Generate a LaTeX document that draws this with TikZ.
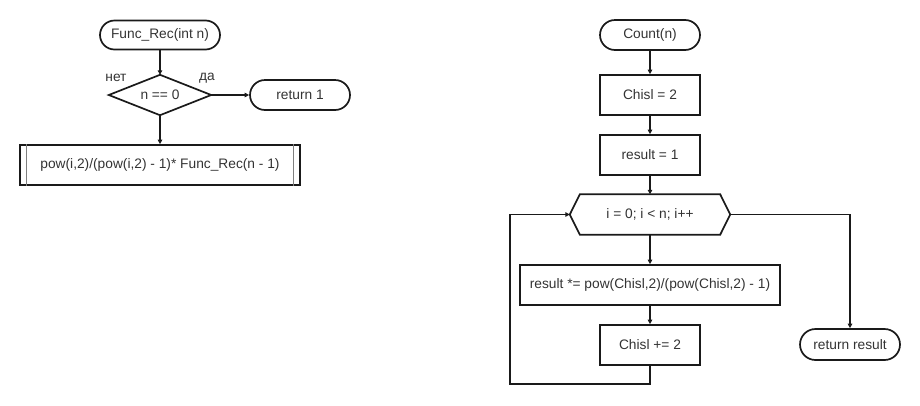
\documentclass[tikz,border=0pt]{standalone}
\usepackage{fontspec}
\setmainfont{Liberation Sans}
\usetikzlibrary{shapes.misc,arrows.meta,calc}
\definecolor{ink}{HTML}{1A1A1A}
\definecolor{txt}{HTML}{333333}
\tikzset{
  every node/.style={font=\fontsize{13.75}{16}\selectfont, text=txt},
  term/.style={rounded rectangle, draw=ink, line width=1.7pt, minimum width=#1, minimum height=29pt, inner sep=0pt},
  proc/.style={rectangle, draw=ink, line width=1.7pt, minimum width=#1, minimum height=40pt, inner sep=0pt},
  shell/.style={rectangle, draw=none, minimum width=#1, minimum height=40pt, inner sep=0pt},
  flow/.style={draw=ink, line width=1.2pt, -{Triangle[length=4.5pt,width=4.5pt]}},
  outline/.style={draw=ink, line width=1.7pt, line join=miter},
}
\begin{document}
\begin{tikzpicture}[x=1pt,y=-1pt]
\useasboundingbox (0,0) rectangle (920,405);

% ---- recursive version ----
\node[term=120pt] (fr) at (160,35) {Func\_Rec(int n)};
\node[shell=102pt] (cond) at (160,95) {n == 0};
\draw[outline] (cond.north) -- (cond.east) -- (cond.south) -- (cond.west) -- cycle;
\node[term=100pt, minimum height=30pt] (ret1) at (300,95) {return 1};
\node[proc=280pt] (call) at (160,165) {pow(i,2)/(pow(i,2) - 1)* Func\_Rec(n - 1)};
\draw[draw=gray, line width=0.9pt] ([xshift=7pt]call.north west) -- ([xshift=7pt]call.south west);
\draw[draw=gray, line width=0.9pt] ([xshift=-7pt]call.north east) -- ([xshift=-7pt]call.south east);
\node (no) at (116,78) {нет};
\node (yes) at (207,78) {да};

\draw[flow] (fr.south) -- (cond.north);
\draw[flow] (cond.east) -- (ret1.west);
\draw[flow] (cond.south) -- (call.north);

% ---- iterative version ----
\node[term=100pt, minimum height=30pt] (cnt) at (650,35) {Count(n)};
\node[proc=100pt] (c2) at (650,95) {Chisl = 2};
\node[proc=100pt] (r1) at (650,155) {result = 1};
\node[shell=160pt] (loop) at (650,214.5) {i = 0; i < n; i++};
\draw[outline] ([xshift=10pt]loop.north west) -- ([xshift=-10pt]loop.north east)
  -- (loop.east) -- ([xshift=-10pt]loop.south east) -- ([xshift=10pt]loop.south west)
  -- (loop.west) -- cycle;
\node[proc=260pt] (mul) at (650,285) {result *= pow(Chisl,2)/(pow(Chisl,2) - 1)};
\node[proc=100pt] (inc) at (650,345) {Chisl += 2};
\node[term=100pt, minimum height=31pt] (ret) at (850,344.5) {return result};
\coordinate (back) at (510,384);

\draw[flow] (cnt.south) -- (c2.north);
\draw[flow] (c2.south) -- (r1.north);
\draw[flow] (r1.south) -- (loop.north);
\draw[flow] (loop.south) -- (mul.north);
\draw[flow] (mul.south) -- (inc.north);
\draw[flow] (inc.south) |- (back) |- (loop.west);
\draw[flow] (loop.east) -| (ret.north);
\end{tikzpicture}
\end{document}
